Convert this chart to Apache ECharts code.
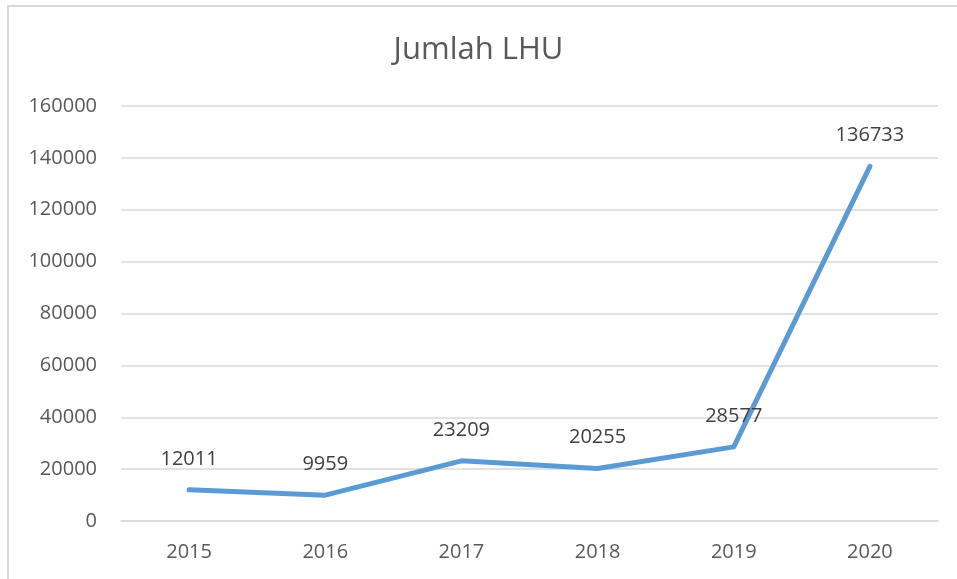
<!DOCTYPE html>
<html>
<head>
<meta charset="utf-8">
<script src="https://cdn.jsdelivr.net/npm/echarts@6/dist/echarts.min.js"></script>
<style>
  html, body { margin: 0; padding: 0; background: #ffffff; }
  #chart { width: 957px; height: 579px; }
</style>
</head>
<body>
<div id="chart"></div>
<script>
// Yearly totals of LHU
const years = ['2015', '2016', '2017', '2018', '2019', '2020'];
const lhuCounts = [12011, 9959, 23209, 20255, 28577, 136733];
const yTicks = [0, 20000, 40000, 60000, 80000, 100000, 120000, 140000, 160000];

const textColor = '#595959';
const fontFamily = '"Open Sans", "Noto Sans", sans-serif';

const chart = echarts.init(document.getElementById('chart'), null, { renderer: 'canvas' });
chart.setOption({
  backgroundColor: '#ffffff',
  animation: false,
  title: {
    text: 'Jumlah LHU',
    left: 'center',
    top: 30,
    textStyle: { fontFamily, fontSize: 31, fontWeight: 'normal', color: textColor }
  },
  graphic: [{
    type: 'rect',
    shape: { x: 8, y: 6, width: 1000, height: 1000 },
    style: { fill: 'none', stroke: '#d9d9d9', lineWidth: 2 },
    silent: true
  }],
  grid: { left: 121, right: 19, top: 106, bottom: 58 },
  xAxis: {
    type: 'category',
    data: years,
    boundaryGap: true,
    axisLine: { show: true, lineStyle: { color: '#d9d9d9', width: 1.5 } },
    axisTick: { show: false },
    axisLabel: { color: textColor, fontFamily, fontSize: 20, margin: 21 }
  },
  yAxis: {
    type: 'value',
    min: yTicks[0],
    max: yTicks[yTicks.length - 1],
    interval: yTicks[1] - yTicks[0],
    axisLine: { show: false },
    axisTick: { show: false },
    splitLine: { lineStyle: { color: '#d9d9d9', width: 1.5 } },
    axisLabel: {
      color: textColor, fontFamily, fontSize: 20, margin: 24,
      formatter: (v) => String(v)
    }
  },
  series: [{
    type: 'line',
    data: lhuCounts,
    symbol: 'circle',
    symbolSize: 2,
    showSymbol: true,
    itemStyle: { color: 'rgba(91,155,213,0)', borderWidth: 0 },
    lineStyle: { color: '#5b9bd5', width: 5, cap: 'round', join: 'round' },
    label: {
      show: true,
      position: 'top',
      distance: 20,
      color: '#404040',
      fontFamily,
      fontSize: 20,
      formatter: (p) => String(p.value)
    }
  }]
});
</script>
</body>
</html>
